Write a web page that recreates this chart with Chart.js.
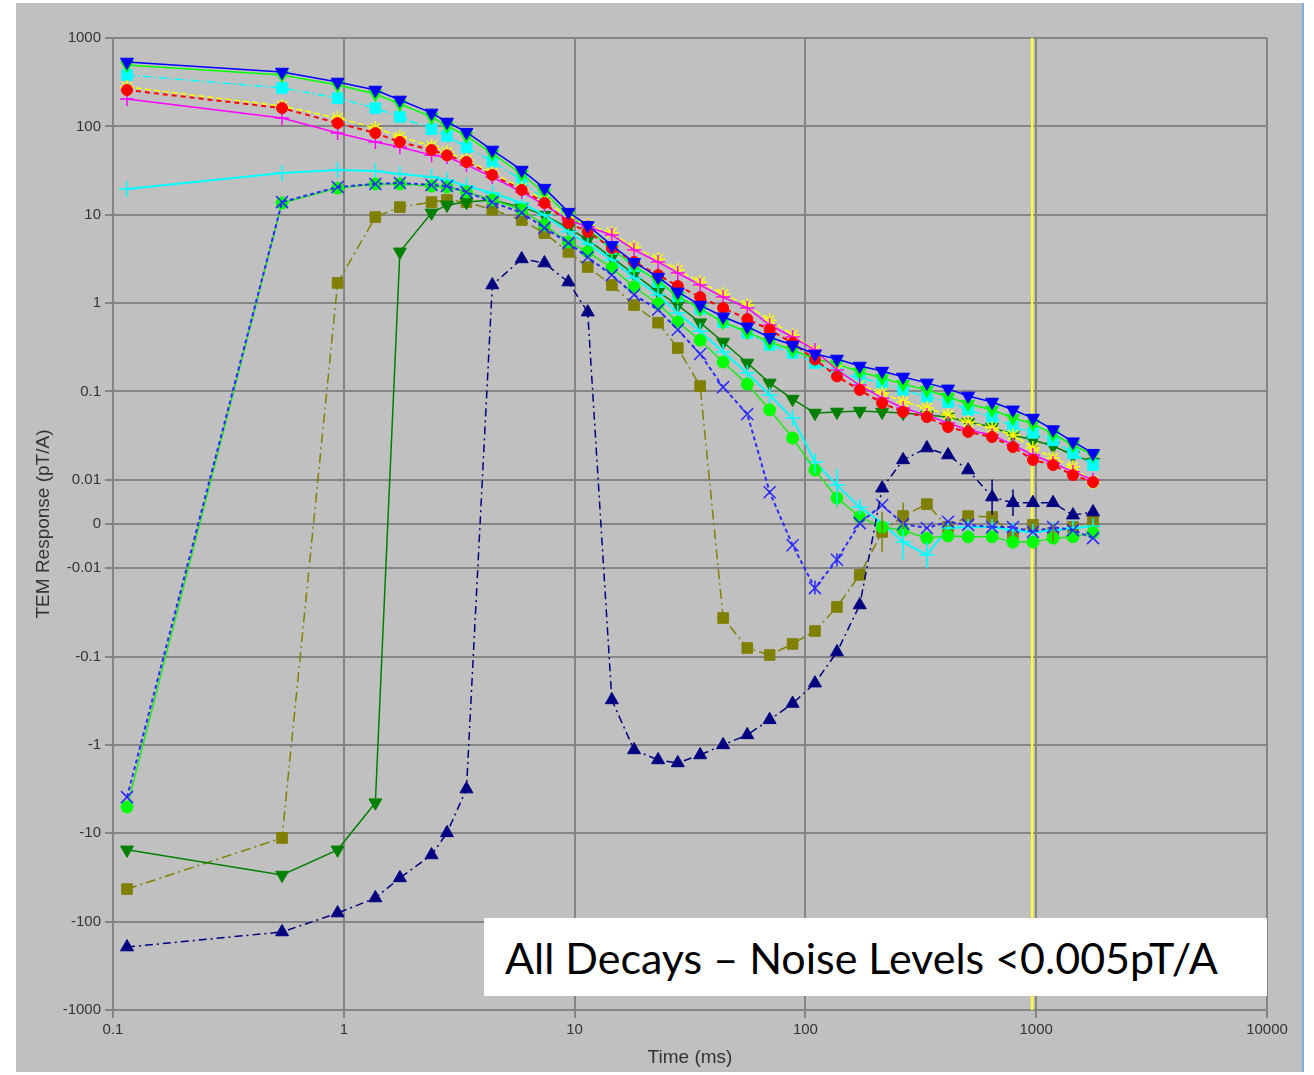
<!DOCTYPE html>
<html>
<head>
<meta charset="utf-8">
<title>TEM decays</title>
<script src="https://cdn.jsdelivr.net/npm/chart.js@4.4.1/dist/chart.umd.min.js"></script>
<style>
  html, body { margin: 0; padding: 0; background: #ffffff; }
  #panel {
    position: absolute; left: 16px; top: 3px; width: 1286px; height: 1069px;
    background: #c0c0c0; border-right: 2px solid #7fb0dc;
  }
  #plot { position: absolute; left: 0; top: 0; }
  #note {
    position: absolute; left: 484px; top: 918px; width: 762px; height: 78px;
    padding-left: 21px; background: #ffffff; color: #000000;
    font-family: Lato, "Noto Sans", sans-serif; font-size: 43px; line-height: 80px;
    white-space: nowrap; overflow: hidden;
  }
</style>
</head>
<body>
<div id="panel"></div>
<canvas id="plot" width="1314" height="1075"></canvas>
<div id="note">All Decays – Noise Levels &lt;0.005pT/A</div>
<script>
// gate centre times (ms)
const timesMs = [0.115, 0.54, 0.94, 1.37, 1.75, 2.4, 2.8, 3.4, 4.4, 5.9, 7.4, 9.4, 11.4, 14.5, 18.1, 23, 28, 35,
  44, 56, 70, 88, 110, 137, 172, 215, 265, 336, 415, 507, 644, 793, 968, 1183, 1443, 1763];

// decays, pT/A
const blueTri = [535, 412, 318, 258, 199, 142, 112, 86, 54, 32, 20, 10.7, 7.6, 4.5, 2.9, 1.97, 1.34, 0.95,
  0.70, 0.54, 0.41, 0.335, 0.265, 0.233, 0.194, 0.17, 0.146, 0.125, 0.107, 0.089, 0.076, 0.062, 0.050, 0.037, 0.027, 0.020];
const limeTri = [495, 381, 294, 232, 179, 128, 101, 78, 49, 28.9, 17.6, 9.9, 6.9, 4.1, 2.63, 1.78, 1.2, 0.86,
  0.61, 0.47, 0.363, 0.294, 0.233, 0.205, 0.166, 0.142, 0.121, 0.104, 0.087, 0.072, 0.062, 0.050, 0.043, 0.033, 0.0248, 0.0191];
const cyanSq = [381, 272, 209, 161, 128, 93, 78, 58, 40, 24.7, 14.7, 9.7, 6.7, 4.1, 2.6, 1.73, 1.2, 0.86,
  0.61, 0.46, 0.336, 0.272, 0.21, 0.162, 0.142, 0.125, 0.104, 0.087, 0.076, 0.062, 0.051, 0.040, 0.034, 0.028, 0.020, 0.0147];
const redDot = [258, 161, 109, 84, 66.5, 54, 47, 39.5, 28.2, 19.1, 13.6, 8.1, 6.4, 4.2, 2.92, 2.08, 1.56, 1.17,
  0.88, 0.66, 0.50, 0.354, 0.23, 0.148, 0.104, 0.074, 0.0586, 0.0514, 0.0396, 0.0348, 0.0305, 0.0235, 0.0168, 0.0147, 0.0113, 0.0095];
const yellowStar = [279, 170, 124, 96, 76, 60, 51, 41.7, 29.7, 20, 14.7, 9.4, 7.65, 6.2, 4.3, 3.16, 2.37, 1.73,
  1.27, 0.95, 0.64, 0.436, 0.294, 0.175, 0.118, 0.096, 0.076, 0.065, 0.054, 0.045, 0.0385, 0.0322, 0.0229, 0.0177, 0.014, 0.0095];
const magentaPlus = [204, 124, 84, 66.5, 58.4, 47, 45, 36.6, 26.7, 18.1, 12.9, 8.7, 7.3, 5.9, 4.0, 2.92, 2.19, 1.6,
  1.17, 0.88, 0.565, 0.413, 0.294, 0.175, 0.118, 0.084, 0.065, 0.054, 0.044, 0.0366, 0.0322, 0.0248, 0.0191, 0.0155, 0.0123, 0.0100];
const cyanPlus = [19.5, 29.7, 32, 31.2, 28.9, 26.7, 24.7, 21.1, 17.6, 13.6, 9.9, 6.4, 4.67, 3.08, 1.92, 1.24, 0.77, 0.48,
  0.28, 0.162, 0.091, 0.050, 0.0159, 0.0088, 0.0038, 0.0002, -0.0041, -0.0070, -0.0009, -0.0007, -0.0007, -0.0014, -0.0018, -0.0014, -0.0009, -0.0005];
const blueX = [-3.9, 13.9, 20.6, 22.3, 22.9, 21.7, 21.1, 18.1, 13.9, 10.5, 7.1, 4.8, 3.3, 2.08, 1.24, 0.84, 0.50, 0.265,
  0.112, 0.0556, 0.0072, -0.0048, -0.0168, -0.0081, 0.0002, 0.0043, 0, -0.0009, 0.0005, -0.0002, -0.0007, -0.0007, -0.0018, -0.0007, -0.0014, -0.0032];
const limeDot = [-5.05, 13.6, 20, 22.3, 22.3, 21.1, 20.6, 18.1, 14.7, 11.4, 7.65, 4.9, 3.8, 2.5, 1.52, 0.98, 0.61, 0.38,
  0.215, 0.121, 0.062, 0.0297, 0.0129, 0.0059, 0.0016, -0.0007, -0.0014, -0.0032, -0.0027, -0.0029, -0.0029, -0.0041, -0.0041, -0.0032, -0.0029, -0.0020];
const darkGreenTri = [-15.4, -29.7, -15.4, -4.5, 3.8, 10.5, 12.9, 13.9, 14.7, 12.2, 9.9, 7.1, 5.2, 3.3, 2.13, 1.34, 0.95, 0.60,
  0.363, 0.21, 0.125, 0.082, 0.057, 0.0586, 0.060, 0.0586, 0.057, 0.054, 0.0514, 0.045, 0.0396, 0.0322, 0.0282, 0.0241, 0.0191, 0.0159];
const oliveSq = [-42.8, -11.3, 1.69, 9.4, 12.2, 13.9, 14.7, 13.9, 11.4, 8.7, 6.2, 3.8, 2.56, 1.6, 0.95, 0.60, 0.31, 0.115,
  -0.0366, -0.080, -0.096, -0.072, -0.0514, -0.0275, -0.0119, -0.0018, 0.0018, 0.0045, -0.0007, 0.0018, 0.0016, -0.0025, -0.0002, -0.0020, -0.0007, 0.0005];
const navyTri = [-194, -131, -80, -54, -32, -17.6, -9.9, -3.16, 1.6, 3.16, 2.84, 1.73, 0.79, -0.31, -1.14, -1.48, -1.6, -1.3,
  -1.0, -0.77, -0.52, -0.34, -0.2, -0.089, -0.0261, 0.0081, 0.0168, 0.0229, 0.0191, 0.0129, 0.0061, 0.0048, 0.0048, 0.0048, 0.0020, 0.0027];

// +/- errors on the late, noisy gates (gate index -> pT/A)
const cyanPlusErr = { 22: 0.004, 23: 0.0045, 24: 0.0017, 26: 0.004, 27: 0.003 };
const oliveSqErr = { 25: 0.0045, 26: 0.003, 33: 0.002 };
const navyTriErr = { 30: 0.004, 31: 0.003 };
const blueXErr = { 22: 0.003, 23: 0.0015 };
const limeDotErr = { 23: 0.002 };

const markerTimeMs = 960;

const xTicks = [0.1, 1, 10, 100, 1000, 10000];
const yTicks = [-1000, -100, -10, -1, -0.1, -0.01, 0, 0.01, 0.1, 1, 10, 100, 1000];
const linThresh = 0.01;

// log above |0.01|, linear through zero
function toAxis(v) {
  const a = Math.abs(v);
  if (a < linThresh) return v / linThresh * 0.5;
  return Math.sign(v) * (Math.log10(a / linThresh) + 0.5);
}
function fromAxis(u) {
  const a = Math.abs(u);
  if (a < 0.5) return u / 0.5 * linThresh;
  return Math.sign(u) * linThresh * Math.pow(10, a - 0.5);
}

class SymLogScale extends Chart.Scale {
  determineDataLimits() {
    this.min = yTicks[0];
    this.max = yTicks[yTicks.length - 1];
  }
  buildTicks() {
    return yTicks.map(v => ({ value: v }));
  }
  getLabelForValue(v) {
    return String(v);
  }
  configure() {
    super.configure();
    this._lo = toAxis(this.min);
    this._span = toAxis(this.max) - this._lo;
  }
  getPixelForValue(v) {
    return this.getPixelForDecimal((toAxis(v) - this._lo) / this._span);
  }
  getValueForPixel(p) {
    return fromAxis(this._lo + this.getDecimalForPixel(p) * this._span);
  }
}
SymLogScale.id = 'symlog';
SymLogScale.defaults = {};
Chart.register(SymLogScale);

const series = (vals, color, style, extra) => Object.assign({
  data: timesMs.map((t, i) => ({ x: t, y: vals[i] })),
  borderColor: color,
  backgroundColor: color,
  pointBorderColor: color,
  pointBackgroundColor: color,
  borderWidth: 1.5,
  pointStyle: style,
  pointRadius: 7,
  pointBorderWidth: 1,
  tension: 0
}, extra);

// vertical error bars, drawn from the dataset's errors map
const errorBars = {
  id: 'errorBars',
  afterDatasetsDraw(chart) {
    const { ctx, scales: { x, y } } = chart;
    ctx.save();
    chart.data.datasets.forEach(ds => {
      if (!ds.errors) return;
      ctx.strokeStyle = ds.borderColor;
      ctx.lineWidth = 1.5;
      Object.keys(ds.errors).forEach(k => {
        const p = ds.data[k];
        const e = ds.errors[k];
        const px = x.getPixelForValue(p.x);
        ctx.beginPath();
        ctx.moveTo(px, y.getPixelForValue(p.y + e));
        ctx.lineTo(px, y.getPixelForValue(p.y - e));
        ctx.stroke();
      });
    });
    ctx.restore();
  }
};

const gridColor = '#858585';
const tickFont = { family: '"Liberation Sans", Arial, sans-serif', size: 15 };
const titleFont = { family: '"Liberation Sans", Arial, sans-serif', size: 19 };

new Chart(document.getElementById('plot'), {
  type: 'line',
  data: {
    datasets: [
      series(blueTri, '#0000ff', 'triangle', { pointRotation: 180, pointRadius: 7.5 }),
      series(redDot, '#ff0000', 'circle', { borderDash: [5, 4], borderWidth: 2, pointRadius: 5.5 }),
      series(magentaPlus, '#ff00ff', 'cross', { pointBorderWidth: 1.5 }),
      series(yellowStar, '#ffff00', 'star', { borderDash: [6, 3], pointBorderWidth: 1.5 }),
      series(limeTri, '#00ff00', 'triangle', { pointRotation: 180, pointRadius: 7.5 }),
      series(cyanSq, '#00ffff', 'rect', { borderDash: [8, 3, 2, 3], pointRadius: 7.5 }),
      series(navyTri, '#000080', 'triangle', { borderDash: [8, 4, 2, 4], pointRadius: 7.5, errors: navyTriErr }),
      series(blueX, '#2a2aff', 'crossRot', { borderDash: [4, 3], borderWidth: 2, pointRadius: 8.5, pointBorderWidth: 1.5, errors: blueXErr }),
      series(limeDot, '#00ff00', 'circle', { borderColor: '#1ee81e', pointRadius: 6, errors: limeDotErr }),
      series(cyanPlus, '#00ffff', 'cross', { borderWidth: 2, pointRadius: 8, pointBorderWidth: 1.5, errors: cyanPlusErr }),
      series(darkGreenTri, '#008000', 'triangle', { pointRotation: 180, pointRadius: 7.5 }),
      series(oliveSq, '#808000', 'rect', { borderDash: [10, 4, 2, 4], pointRadius: 7.5, errors: oliveSqErr }),
      {
        data: [{ x: markerTimeMs, y: yTicks[yTicks.length - 1] }, { x: markerTimeMs, y: yTicks[0] }],
        borderColor: '#ffff33',
        borderWidth: 2.5,
        pointRadius: 0
      }
    ]
  },
  options: {
    responsive: false,
    animation: false,
    devicePixelRatio: 1,
    events: [],
    layout: { padding: { left: 0, right: 47, top: 38, bottom: 0 } },
    plugins: { legend: { display: false }, tooltip: { enabled: false } },
    scales: {
      x: {
        type: 'logarithmic',
        min: 0.1,
        max: 10000,
        afterBuildTicks: s => { s.ticks = xTicks.map(v => ({ value: v })); },
        afterFit: s => { s.height = 65; },
        grid: { color: gridColor, lineWidth: 2, tickLength: 8 },
        border: { color: gridColor, width: 2 },
        ticks: { callback: v => String(v), color: '#333', font: tickFont, padding: 3, maxRotation: 0, autoSkip: false },
        title: { display: true, text: 'Time (ms)', color: '#333', font: titleFont, padding: { top: 0, bottom: 6 } }
      },
      y: {
        type: 'symlog',
        afterFit: s => { s.width = 113; },
        grid: { color: gridColor, lineWidth: 2, tickLength: 8 },
        border: { color: gridColor, width: 2 },
        ticks: { color: '#333', font: tickFont, padding: 4, autoSkip: false },
        title: { display: true, text: 'TEM Response (pT/A)', color: '#333', font: titleFont, padding: { top: 32, bottom: 0 } }
      }
    }
  },
  plugins: [errorBars]
});
</script>
</body>
</html>
